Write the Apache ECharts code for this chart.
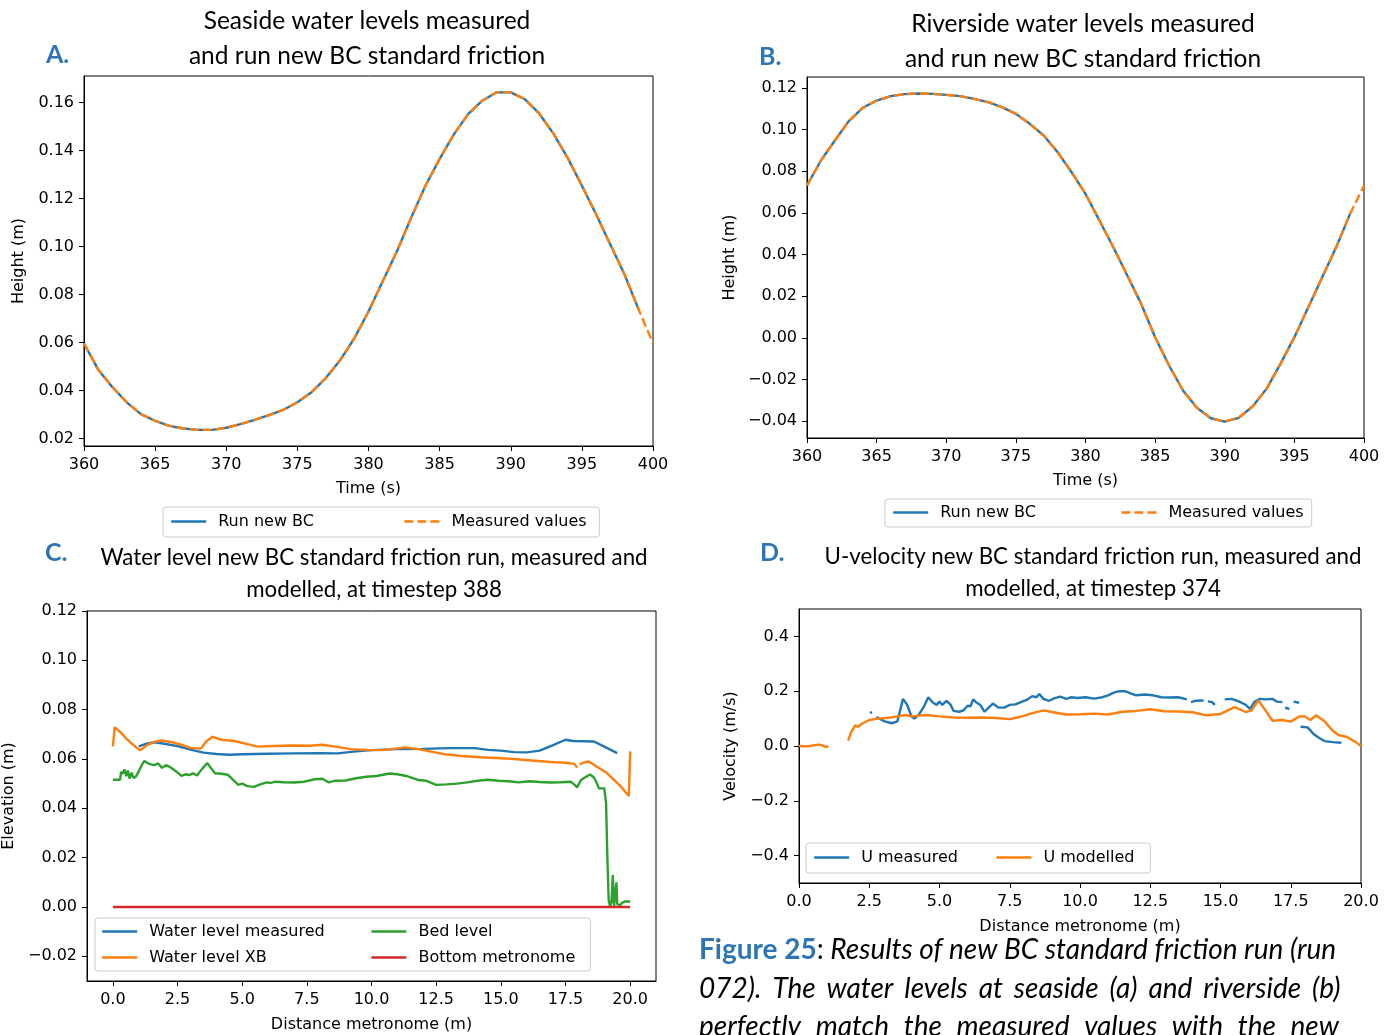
<!DOCTYPE html>
<html>
<head>
<meta charset="utf-8">
<script src="https://cdn.jsdelivr.net/npm/echarts@6/dist/echarts.min.js"></script>
<style>
  html, body { margin: 0; padding: 0; background: #fff; }
  #chart { width: 1396px; height: 1035px; }
</style>
</head>
<body>
<div id="chart"></div>
<script>
// ---- Panel A / B: water levels at the boundaries, t = 360..400 s ----
const timeAB = [360,361,362,363,364,365,366,367,368,369,370,371,372,373,374,375,376,377,378,379,380,
                381,382,383,384,385,386,387,388,389,390,391,392,393,394,395,396,397,398,399,400];

const seasideMeasured = [0.0596,0.0487,0.0414,0.0351,0.0302,0.0274,0.0253,0.0242,0.0236,0.0236,0.0245,
  0.0260,0.0278,0.0298,0.0319,0.0351,0.0393,0.0452,0.0526,0.0617,0.0729,0.0855,0.0980,0.1120,0.1253,
  0.1365,0.1467,0.1551,0.1607,0.1642,0.1642,0.1613,0.1554,0.1470,0.1369,0.1253,0.1134,0.1008,0.0883,
  0.0736,0.0596];
const seasideRun = [0.0596,0.0487,0.0414,0.0351,0.0302,0.0274,0.0253,0.0242,0.0236,0.0236,0.0245,
  0.0260,0.0278,0.0298,0.0319,0.0351,0.0393,0.0452,0.0526,0.0617,0.0729,0.0855,0.0980,0.1120,0.1253,
  0.1365,0.1467,0.1551,0.1607,0.1642,0.1642,0.1613,0.1554,0.1470,0.1369,0.1253,0.1134,0.1008,0.0883,
  0.0736,null];

const riversideMeasured = [0.0731,0.0851,0.0947,0.1040,0.1104,0.1139,0.1160,0.1170,0.1173,0.1171,0.1166,
  0.1160,0.1147,0.1131,0.1107,0.1075,0.1027,0.0971,0.0891,0.0795,0.0691,0.0563,0.0435,0.0299,0.0163,
  0.0003,-0.0133,-0.0253,-0.0336,-0.0386,-0.0402,-0.0384,-0.0330,-0.0245,-0.0125,0.0003,0.0147,0.0291,
  0.0435,0.0595,0.0731];
const riversideRun = [0.0731,0.0851,0.0947,0.1040,0.1104,0.1139,0.1160,0.1170,0.1173,0.1171,0.1166,
  0.1160,0.1147,0.1131,0.1107,0.1075,0.1027,0.0971,0.0891,0.0795,0.0691,0.0563,0.0435,0.0299,0.0163,
  0.0003,-0.0133,-0.0253,-0.0336,-0.0386,-0.0402,-0.0384,-0.0330,-0.0245,-0.0125,0.0003,0.0147,0.0291,
  0.0435,0.0595,null];

// ---- Panel C: water level along the flume at timestep 388 [distance m, elevation m] ----
const levelMeasured = [[1.0,0.0651],[1.3,0.0662],[1.6,0.0668],[2.0,0.0662],[2.5,0.0652],[3.0,0.0638],
  [3.5,0.0626],[4.0,0.0620],[4.5,0.0617],[5.0,0.0619],[6.0,0.0621],[7.0,0.0623],[8.0,0.0624],[8.7,0.0623],
  [9.3,0.0630],[10.0,0.0636],[11.0,0.0640],[12.0,0.0641],[13.0,0.0644],[14.0,0.0644],[14.5,0.0637],
  [15.0,0.0634],[15.5,0.0628],[16.0,0.0627],[16.5,0.0634],[17.0,0.0655],[17.5,0.0678],[17.8,0.0673],
  [18.2,0.0672],[18.6,0.0671],[19.0,0.0650],[19.5,0.0624]];
const levelXB = [[0.0,0.0651],[0.07,0.0729],[0.3,0.0708],[0.5,0.0685],[0.7,0.0665],[1.05,0.0635],
  [1.3,0.0655],[1.6,0.0670],[1.9,0.0675],[2.3,0.0668],[2.7,0.0656],[3.0,0.0645],[3.4,0.0642],[3.6,0.0670],
  [3.85,0.0690],[4.2,0.0678],[4.7,0.0673],[5.2,0.0660],[5.6,0.0650],[6.2,0.0653],[7.0,0.0655],[7.6,0.0654],
  [8.1,0.0658],[8.6,0.0650],[9.2,0.0640],[9.8,0.0637],[10.4,0.0636],[11.0,0.0643],[11.3,0.0647],
  [11.8,0.0640],[12.3,0.0630],[12.9,0.0618],[13.5,0.0612],[14.2,0.0607],[14.8,0.0604],[15.5,0.0600],
  [16.2,0.0594],[16.9,0.0588],[17.5,0.0585],[17.85,0.0580],[17.95,0.0565],[18.0,null],[18.05,0.0578],
  [18.15,0.0584],[18.4,0.0590],[18.7,0.0570],[19.1,0.0543],[19.6,0.0493],[19.95,0.0450],[20.0,0.0631]];
const bedLevel = [[0.0,0.0516],[0.28,0.0516],[0.32,0.0549],[0.38,0.0540],[0.45,0.0558],[0.52,0.0530],
  [0.58,0.0553],[0.65,0.0520],[0.72,0.0545],[0.8,0.0523],[0.9,0.0530],[1.0,0.0550],[1.15,0.0582],
  [1.22,0.0592],[1.4,0.0580],[1.6,0.0575],[1.75,0.0582],[1.9,0.0564],[2.05,0.0575],[2.2,0.0568],
  [2.35,0.0557],[2.5,0.0545],[2.65,0.0532],[2.8,0.0538],[2.95,0.0535],[3.1,0.0542],[3.25,0.0533],
  [3.45,0.0560],[3.65,0.0584],[3.8,0.0562],[3.95,0.0542],[4.2,0.0540],[4.45,0.0536],[4.65,0.0515],
  [4.85,0.0495],[5.0,0.0500],[5.2,0.0490],[5.45,0.0487],[5.7,0.0497],[5.95,0.0505],[6.1,0.0503],
  [6.3,0.0508],[6.6,0.0506],[7.0,0.0505],[7.4,0.0508],[7.8,0.0518],[8.1,0.0520],[8.35,0.0505],
  [8.6,0.0512],[9.0,0.0513],[9.4,0.0522],[9.8,0.0528],[10.2,0.0531],[10.7,0.0541],[11.0,0.0538],
  [11.4,0.0530],[11.8,0.0515],[12.1,0.0512],[12.5,0.0495],[12.9,0.0497],[13.3,0.0500],[13.7,0.0505],
  [14.1,0.0512],[14.5,0.0516],[14.9,0.0512],[15.3,0.0510],[15.7,0.0505],[16.1,0.0510],[16.5,0.0507],
  [16.9,0.0505],[17.3,0.0506],[17.7,0.0508],[17.85,0.0496],[17.95,0.0485],[18.1,0.0515],[18.3,0.0528],
  [18.45,0.0537],[18.6,0.0525],[18.7,0.0505],[18.8,0.0480],[19.0,0.0482],[19.07,0.0420],[19.12,0.0200],
  [19.17,0.0030],[19.22,0.0003],[19.28,0.0020],[19.33,0.0130],[19.38,0.0005],[19.43,0.0010],
  [19.47,0.0100],[19.5,0.0012],[19.55,0.0005],[19.62,0.0008],[19.7,0.0018],[19.8,0.0022],[20.0,0.0022]];
const bottomMetronome = [[0.0,0.0],[20.0,0.0]];

// ---- Panel D: depth-averaged U-velocity at timestep 374 [distance m, velocity m/s] ----
const uMeasured = [[2.52,0.124],[2.6,0.121],[2.68,null],
  [2.75,0.106],[2.9,0.098],[3.05,0.090],[3.3,0.083],[3.5,0.090],[3.6,0.130],[3.7,0.172],[3.85,0.150],
  [4.0,0.108],[4.1,0.100],[4.25,0.112],[4.45,0.145],[4.6,0.178],[4.75,0.160],[4.9,0.150],[5.0,0.162],
  [5.1,0.150],[5.25,0.165],[5.4,0.150],[5.5,0.128],[5.7,0.125],[5.85,0.130],[6.0,0.147],[6.1,0.145],
  [6.2,0.170],[6.3,0.160],[6.45,0.150],[6.6,0.125],[6.75,0.140],[6.9,0.155],[7.1,0.140],[7.3,0.140],
  [7.5,0.150],[7.7,0.152],[7.9,0.160],[8.1,0.168],[8.3,0.182],[8.45,0.178],[8.55,0.190],[8.7,0.172],
  [8.9,0.165],[9.1,0.175],[9.3,0.180],[9.5,0.172],[9.7,0.178],[9.9,0.175],[10.2,0.178],[10.5,0.173],
  [10.8,0.178],[11.0,0.185],[11.2,0.195],[11.4,0.200],[11.6,0.200],[11.8,0.192],[12.0,0.185],
  [12.3,0.188],[12.6,0.185],[12.9,0.178],[13.2,0.177],[13.5,0.178],[13.8,0.170],[13.9,null],
  [13.95,0.160],[14.1,0.165],[14.4,0.166],[14.45,null],[14.55,0.163],[14.7,0.160],[14.8,0.150],[14.9,null],
  [15.15,0.170],[15.4,0.172],[15.6,0.165],[15.75,0.158],[15.9,0.150],[16.05,0.135],[16.2,0.160],
  [16.4,0.172],[16.6,0.170],[16.85,0.172],[17.0,0.162],[17.2,0.160],[17.25,null],[17.3,0.140],
  [17.45,0.135],[17.5,null],[17.6,0.162],[17.8,0.158],[17.83,null],[17.85,0.070],[18.1,0.068],
  [18.3,0.045],[18.5,0.030],[18.7,0.018],[19.0,0.014],[19.3,0.012]];
const uModelled = [[0.0,0.000],[0.2,-0.001],[0.4,0.000],[0.55,0.003],[0.7,0.005],[0.85,0.002],
  [0.95,-0.004],[1.0,-0.009],[1.05,0.000],[1.4,null],
  [1.75,0.020],[1.85,0.050],[2.0,0.075],[2.1,0.070],[2.25,0.082],[2.5,0.095],[2.8,0.100],[3.2,0.103],
  [3.6,0.110],[3.8,0.113],[4.0,0.108],[4.5,0.113],[5.0,0.108],[5.5,0.104],[6.0,0.103],[6.5,0.104],
  [7.0,0.102],[7.5,0.098],[7.8,0.105],[8.0,0.110],[8.3,0.120],[8.7,0.130],[9.0,0.124],[9.5,0.115],
  [10.0,0.116],[10.5,0.118],[11.0,0.115],[11.5,0.125],[12.0,0.128],[12.5,0.134],[13.0,0.127],
  [13.5,0.126],[14.0,0.123],[14.5,0.112],[15.0,0.117],[15.5,0.142],[15.9,0.124],[16.1,0.130],
  [16.35,0.166],[16.6,0.130],[16.85,0.092],[17.2,0.095],[17.5,0.089],[17.8,0.108],[18.0,0.108],
  [18.2,0.095],[18.4,0.112],[18.7,0.090],[19.0,0.055],[19.2,0.040],[19.5,0.033],[19.8,0.015],[20.0,0.000]];

// ---- Axis tick labels ----
const ticksTime = [360,365,370,375,380,385,390,395,400];
const ticksSeaside = [0.02,0.04,0.06,0.08,0.10,0.12,0.14,0.16];
const ticksRiverside = [-0.04,-0.02,0.00,0.02,0.04,0.06,0.08,0.10,0.12];
const ticksDistance = [0,2.5,5,7.5,10,12.5,15,17.5,20];
const ticksElevation = [-0.02,0.00,0.02,0.04,0.06,0.08,0.10,0.12];
const ticksVelocity = [-0.4,-0.2,0.0,0.2,0.4];

const BLUE = '#1f77b4', ORANGE = '#ff7f0e', GREEN = '#2ca02c', RED = '#d62728';
const MPL_FONT = 'DejaVu Sans';
const TITLE_FONT = 'Lato';
const FIG_BLUE = '#2e75b6';
const LINE_W = 2.4;

const fmt = d => v => (v < 0 ? '\u2212' : '') + Math.abs(v).toFixed(d);
const zip = (xs, ys) => xs.map((x, i) => [x, ys[i]]);

function axis(gridIndex, min, max, ticks, decimals, name, nameGap, labelMargin) {
  return {
    type: 'value', gridIndex, min, max,
    axisLine: { show: true, onZero: false, lineStyle: { color: '#000', width: 1 } },
    axisTick: { show: true, length: 5, inside: false, customValues: ticks, lineStyle: { color: '#000', width: 1 } },
    axisLabel: { customValues: ticks, formatter: fmt(decimals), fontFamily: MPL_FONT, fontSize: 16, color: '#000', margin: labelMargin },
    splitLine: { show: false },
    name, nameLocation: 'middle', nameGap,
    nameTextStyle: { fontFamily: MPL_FONT, fontSize: 16, color: '#000' }
  };
}

function lineSeries(name, xi, data, color, z, dashed) {
  return {
    type: 'line', name, xAxisIndex: xi, yAxisIndex: xi, data,
    symbol: 'none', showSymbol: false, connectNulls: false, z,
    lineStyle: { color, width: LINE_W, type: dashed ? [9, 4] : 'solid' },
    itemStyle: { color },
    emphasis: { disabled: true }
  };
}

const legendText = { fontFamily: MPL_FONT, fontSize: 16, color: '#000', lineHeight: 19, padding: [0, 0, 0, 7] };
const legendBase = {
  orient: 'horizontal', itemWidth: 35, itemHeight: 14,
  backgroundColor: '#fff', borderColor: '#cccccc', borderWidth: 1, borderRadius: 3,
  selectedMode: false,
  // line-only keys, no marker dot
  itemStyle: { color: 'rgba(0,0,0,0)', borderColor: 'rgba(0,0,0,0)', borderWidth: 0, opacity: 0 },
  lineStyle: { width: LINE_W }
};

const gridBox = { show: true, borderColor: '#000', borderWidth: 1, backgroundColor: 'transparent', containLabel: false };

const option = {
  backgroundColor: '#fff',
  animation: false,
  grid: [
    Object.assign({ left: 84, top: 76, width: 569, height: 370 }, gridBox),
    Object.assign({ left: 807, top: 77, width: 557, height: 361 }, gridBox),
    Object.assign({ left: 86, top: 611, width: 570, height: 370 }, gridBox),
    Object.assign({ left: 799, top: 609, width: 562, height: 274 }, gridBox)
  ],
  xAxis: [
    axis(0, 360, 400, ticksTime, 0, 'Time (s)', 35, 11),
    axis(1, 360, 400, ticksTime, 0, 'Time (s)', 35, 11),
    axis(2, -1, 21, ticksDistance, 1, 'Distance metronome (m)', 36, 11),
    axis(3, 0, 20, ticksDistance, 1, 'Distance metronome (m)', 36, 11)
  ],
  yAxis: [
    axis(0, 0.0169, 0.1710, ticksSeaside, 2, 'Height (m)', 57, 10),
    axis(1, -0.0481, 0.1252, ticksRiverside, 2, 'Height (m)', 69, 10),
    axis(2, -0.03, 0.12, ticksElevation, 2, 'Elevation (m)', 70, 10),
    axis(3, -0.5, 0.5, ticksVelocity, 1, 'Velocity (m/s)', 60, 10)
  ],
  legend: [
    Object.assign({}, legendBase, {
      left: 163, top: 507, padding: [5, 8, 6, 7], itemGap: 45,
      data: ['Run new BC', 'Measured values'],
      textStyle: Object.assign({ width: 140 }, legendText)
    }),
    Object.assign({}, legendBase, {
      left: 885, top: 499, padding: [4, 8, 5, 7], itemGap: 45,
      data: ['Run new BC', 'Measured values'],
      textStyle: Object.assign({ width: 135 }, legendText)
    }),
    Object.assign({}, legendBase, {
      left: 95, top: 918, padding: [4, 6, 4, 6], itemGap: 7, width: 490,
      data: [
        { name: 'Water level measured', textStyle: { width: 214 } },
        { name: 'Bed level', textStyle: { width: 166 } },
        { name: 'Water level XB', textStyle: { width: 214 } },
        { name: 'Bottom metronome', textStyle: { width: 166 } }
      ],
      textStyle: Object.assign({}, legendText)
    }),
    Object.assign({}, legendBase, {
      left: 806, top: 843, padding: [5, 7, 6, 7], itemGap: 34,
      data: ['U measured', 'U modelled'],
      textStyle: Object.assign({ width: 100 }, legendText)
    })
  ],
  series: [
    lineSeries('Run new BC', 0, zip(timeAB, seasideRun), BLUE, 2, false),
    lineSeries('Measured values', 0, zip(timeAB, seasideMeasured), ORANGE, 3, true),
    lineSeries('Run new BC', 1, zip(timeAB, riversideRun), BLUE, 2, false),
    lineSeries('Measured values', 1, zip(timeAB, riversideMeasured), ORANGE, 3, true),
    lineSeries('Water level measured', 2, levelMeasured, BLUE, 2, false),
    lineSeries('Water level XB', 2, levelXB, ORANGE, 3, false),
    lineSeries('Bed level', 2, bedLevel, GREEN, 4, false),
    lineSeries('Bottom metronome', 2, bottomMetronome, RED, 5, false),
    lineSeries('U measured', 3, uMeasured, BLUE, 2, false),
    lineSeries('U modelled', 3, uModelled, ORANGE, 3, false)
  ],
  graphic: { elements: [] }
};

// Panel titles and letters
const titleTop = { fontFamily: TITLE_FONT, fontSize: 24.5, fill: '#000' };
const titleBottom = { fontFamily: TITLE_FONT, fontSize: 22.3, fill: '#000' };
const letterStyle = { fontFamily: TITLE_FONT, fontSize: 25, fontWeight: 'bold', fill: FIG_BLUE };
function text(x, y, str, style, align) {
  return { type: 'text', x, y, silent: true,
    style: Object.assign({ text: str, align: align || 'center', verticalAlign: 'middle' }, style) };
}
option.graphic.elements.push(
  text(367, 21, 'Seaside water levels measured', titleTop),
  text(367, 56, 'and run new BC standard friction', titleTop),
  text(1083, 24, 'Riverside water levels measured', titleTop),
  text(1083, 59, 'and run new BC standard friction', titleTop),
  text(374, 558, 'Water level new BC standard friction run, measured and', titleBottom),
  text(374, 590, 'modelled, at timestep 388', titleBottom),
  text(1093, 557, 'U-velocity new BC standard friction run, measured and', titleBottom),
  text(1093, 589, 'modelled, at timestep 374', titleBottom),
  text(46, 55, 'A.', letterStyle, 'left'),
  text(759, 57, 'B.', letterStyle, 'left'),
  text(45, 553, 'C.', letterStyle, 'left'),
  text(760, 553, 'D.', letterStyle, 'left')
);

// Figure caption (justified lines; continues below the page edge)
const CAP = 28;
const capRich = {
  b: { fontFamily: TITLE_FONT, fontSize: CAP, fontWeight: 'bold', fill: FIG_BLUE },
  i: { fontFamily: TITLE_FONT, fontSize: CAP, fontStyle: 'italic', fill: '#000' },
  n: { fontFamily: TITLE_FONT, fontSize: CAP, fill: '#000' },
  s2: { fontFamily: TITLE_FONT, fontSize: CAP, width: 10.9 },
  s3: { fontFamily: TITLE_FONT, fontSize: CAP, width: 14.6 }
};
const capLine = (y, str) => ({ type: 'text', x: 699, y, silent: true,
  style: { text: str, rich: capRich, align: 'left', verticalAlign: 'middle', fontFamily: TITLE_FONT, fontSize: CAP } });
const justify = (words, gap) => words.map(w => '{i|' + w + '}').join('{' + gap + '| }');
option.graphic.elements.push(
  capLine(950, '{b|Figure 25}{n|:}{i| Results of new BC standard friction run (run}'),
  capLine(989, justify(['072).', 'The', 'water', 'levels', 'at', 'seaside', '(a)', 'and', 'riverside', '(b)'], 's2')),
  capLine(1027, justify(['perfectly', 'match', 'the', 'measured', 'values', 'with', 'the', 'new'], 's3'))
);

const chart = echarts.init(document.getElementById('chart'), null, { renderer: 'canvas' });
chart.setOption(option);
</script>
</body>
</html>
